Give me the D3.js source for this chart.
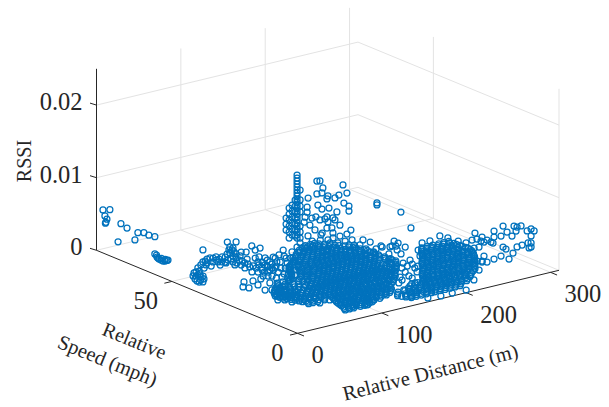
<!DOCTYPE html>
<html>
<head>
<meta charset="utf-8">
<script src="https://cdn.jsdelivr.net/npm/d3@7"></script>
<style>
  html, body { margin: 0; padding: 0; background: #fff; }
  text { font-family: "Liberation Serif", serif; fill: #262626; }
</style>
</head>
<body>
<div id="chart"></div>
<script>
// tick labels
const distanceTicks = [0, 100, 200, 300];
const speedTicks = [0, 50];
const rssiTicks = [0, 0.01, 0.02];
const rssiLabels = ["0", "0.01", "0.02"];

// points that sit on the floor of the box (rssi reads as about 0)
const floorDistance = [37,36,33,31,30.7,30.4,31.9,34.3,35.9,34,35,32,
  80.3,112.8,119.6,105.1,108.9,124.2,126.6,119.3,43.2,53,45.9,61.6,58,71.2,54.2,70.6,109.6,112.3,120.1,
  25.7,21.8,19.7,19.3,24.4,22.2,28.5,29.8,31.2,35.2,39.2,43.9,51.6,58.5,61.8,59.7,48.4,66.9,71.1,73.3,77.4,75.9,81.9,84.1,91,95.1,99.8,102.1,99.9,97.8,91.9,90.6,89.1,89.6,88.2,88.6,84.6,88.8,87.3,95.1,91.8,86.1,99.3,94.2,106.6,101.6,
  66,69.8,72.8,80.9,84.9,74,81,82.2,81.6,106,106.4,31.9,34.5,33.1,27.9,
  99.7,88.2,99.6,89.1,108.7,84.8,119.8,106,96.6,116.2,90.5,130.1,109.1,119.7,100.4,131,110,78.1,98.1,96.5,128.2,140.3,143.3,127.5,156.1,120.5,90.3,
  219.9,220.8,198.7,202.4,199.6,211.7,239.6,232,229.1,237,221.3,212.3,203.2,239,225.6,225.8,219.8,
  206.5,217.1,206.4,200.7,186,191.7,178.8,204,211.4,196.6,187.4,212.2,167.2,158.2,179.2,265.5,
  61.7,65.4,69.2,52.7,56.5,50.8,45.8,76.4,74.8,76.5,63.9,63.9,76.6,61.5,68.7,82.1,93.2,103.8,
  104.8,102.7,110.1,99.3,114,106.1,128,113.9,133.3,113.7,133.3,97.4,84.2,94.4,149.3,161.4,178.3,186.1,188.2,203,206.9,204.2,
  267.4,250.7,228.8,204.7,188.8,175,161.7,151.5,150.1,141.2,117.7,103.3,283.1,285.5,287.6,290,266.6,257,241.3,231.9,286.8,
  165.7,184.3,200.2,199.4,208.2,210,218.2,204.7,174.9,185.6,
  52.7,51,71.7,84.7,59.4,
  55.4,57.3,71.9,65.9,77.1,79.1,77.1,81.6,96.9,75,97.2,81.8,75.9];
const floorSpeed = [69.2,68.2,67,65.5,64.6,63.7,63.4,63.5,63.6,65.6,64.4,66.3,
  64.6,65.8,64.6,57.7,57,59.9,57.4,56.9,36.2,39.1,34.7,38.4,35.2,38.5,31.1,34.7,52.1,50.6,50,
  50.2,48.1,46.6,45.6,46.7,45.1,46.8,48.4,50.1,52.2,52.3,54.4,55.8,57.3,57.5,56.1,53.4,58.5,58.7,58.2,58.4,56.7,57.5,57,58.6,58.8,60.8,60.3,58.8,57.3,56.5,54.9,53.1,52.1,50.6,49.4,47.4,47.5,45.8,47.3,44.9,42.2,45.4,42.6,45.9,43.1,
  55.8,55.1,54.6,54.8,55,53.3,52.9,51.7,49.8,62.5,61.4,51.9,50.4,48.7,49.7,
  49.2,43.7,46.4,41.6,47.5,38.6,49.1,44.1,40.1,45.9,36.5,49,41.5,44.3,37.4,46.9,39.5,39.9,44.7,42,50.4,52.8,50.3,43.8,52.6,42.3,33.7,
  44.9,40.9,46.2,45.4,44.1,39.8,42,38.7,39.3,36.7,33.1,34.9,31.8,40.2,36.1,39,40.1,
  27.3,28.1,22.6,19.8,16.8,21.5,19.2,24.8,25.3,24.5,18.6,23.3,15.8,10.8,13.4,17.6,
  29.6,28.9,28.2,24.6,23.9,25.9,23.2,30.7,32.9,28.7,24.4,22.5,26.8,26.8,31.2,33.4,35.1,35.9,
  52,48.6,49,43.5,46.5,42.2,47.5,41.6,46.5,38.8,44.5,38,36.7,33.8,49.1,51.6,54,53.4,50.2,49.2,44.6,41.3,
  16.3,11.9,6.6,1.6,1.8,1.7,2.4,5.3,10.4,12.1,9.1,7.1,38.4,36,32.6,30.3,36.8,36.7,33,29.1,26,
  54.6,57.7,57.4,52.8,53,48.8,47.2,38.4,17.1,24.7,
  19.9,22.2,15.2,15.6,30.1,
  55,53.6,56.5,52.9,50.8,47.5,44,43.1,52.6,54,55.5,39.2,33.6];

// points that stand clear of the floor
const raisedDistance = [1.7,9.9,4,6.4,5.2,4.6,23,30.2,19.6,43.1,39.6,50.2,56.1,63.2,
  121.6,121.6,121.6,121.6,121.6,121.6,121.6,121.6,121.6,121.6,121.6,121.6,121.6,121.6,121.6,121.6,121.6,121.6,121.6,121.6,121.6,121.6,
  108.6,108.6,108.6,112.2,112.2,112.2,112.2,112.2,112.2,115.7,115.7,115.7,115.7,115.7,115.7,119.3,119.3,119.3,119.3,119.3,119.3,119.3,125.2,125.2,125.2,125.2,125.2,125.2,125.2,134.7,133.5,133.5,131.1,130,
  160.6,164.2,167.7,160.6,166.6,173.7,172.5,182,186.7,196.2,191.5,192.6,198.6,198.6,174.9,184.3,179.6,172.5,170.1,173.7,182,159.4,164.2,154.7,172.5,178.4,179.6,200.9,196.2,165.4,173.7,185.5,152.3,158.3,166.6,187.9,161.8,
  231.8,231.8,260.2,272.1,
  247,249.4,243.5,251.8,255.4,257.7,261.3,266,269.6,269.6,277.9,280.3,285,290.9,293.3,296.9,295.7,
  280.2,287.4,292.1,295.7,292.1,281.4,288.5,292.1,292.1,289.7,
  257.7,255.4,261.3,269.6,277.9,280.3,283.8,287.4,292.1,296.9,268.4,254.2];
const raisedSpeed = [78,78,78,78,78,78,78,78,78,78,78,78,78,78,
  41,41,41,41,41,41,41,41,41,41,41,41,41,41,41,41,41,41,41,41,41,41,
  41,41,41,41,41,41,41,41,41,41,41,41,41,41,41,41,41,41,41,41,41,41,41,41,41,41,41,41,41,41,41,41,41,41,
  46.2,46.2,46.2,46.2,46.2,46.2,46.2,46.2,46.2,46.2,46.2,46.2,46.2,46.2,46.2,46.2,46.2,46.2,46.2,46.2,46.2,46.2,46.2,46.2,46.2,46.2,46.2,46.2,46.2,46.2,46.2,46.2,46.2,46.2,46.2,46.2,46.2,
  46.2,46.2,46.2,46.2,
  12.3,12.3,12.3,12.3,12.3,12.3,12.3,12.3,12.3,12.3,12.3,12.3,12.3,12.3,12.3,12.3,12.3,
  5.1,5.1,5.1,5.1,5.1,5.1,5.1,5.1,5.1,5.1,
  12.3,12.3,12.3,12.3,12.3,12.3,12.3,12.3,12.3,12.3,12.3,12.3];
const raisedRssi = [.0058,.0056,.0049,.0044,.004,.0039,.0033,.0025,.0009,.0015,.0006,.0013,.0008,.0004,
  .01253,.01212,.01171,.01129,.01088,.01047,.01006,.00964,.00923,.00882,.0084,.00799,.00758,.00716,.00675,.00634,.00592,.00551,.0051,.00468,.00427,.00386,
  .00697,.00614,.00532,.00825,.00742,.0066,.00577,.00494,.00412,.00857,.00774,.00691,.00609,.00526,.00443,.00915,.00832,.0075,.00667,.00584,.00501,.00419,.01037,.009,.00817,.00735,.00541,.00459,.00376,.00899,.00778,.00709,.00647,.00581,
  .00988,.00978,.00872,.00809,.00806,.00745,.00707,.00694,.00722,.00723,.00847,.00595,.00537,.00468,.00576,.00495,.00426,.00459,.00438,.00387,.00391,.00496,.00441,.00494,.00307,.00291,.00219,.002,.00158,.00231,.00139,.00065,.00405,.0032,.00585,.00303,.00654,
  .00486,.00459,.00282,.00029,
  .00514,.00424,.00427,.00307,.00435,.0036,.00377,.00336,.00478,.00395,.00386,.00517,.00421,.0035,.00481,.00457,.00405,
  .00621,.00532,.00547,.0051,.0045,.00355,.00364,.00354,.00299,.00292,
  .00167,.00105,.00074,.00092,.0011,.00227,.0019,.00043,.00112,.00182,.00315,.00383];

// the two solid clusters are too dense to pick out single circles,
// so they are read off as rows of nearly equal speed
const mainRowSpeed = [7.2,8.2,9.2,10.3,11.3,12.3,13.3,14.4,15.4,16.4,17.4,18.5,19.5,20.5,21.5,22.6,23.6,24.6,25.6,26.7,27.7,28.7,29.7,30.8,31.8,32.8,33.8,34.9,35.9,36.9,37.9,39,40,41,42.1,43.1,44.1,45.1,46.2,47.2,48.2,49.2,50.3,51.3,52.3];
const mainRowDistance = [
  [78,83,88,96,101,105],
  [80,85,90,94,99,106,110,113],
  [82,87,93,97,103,108,112,118,125],
  [83,89,92,98,101,107,110,115,120,124,130,136],
  [84,90,95,100,105,111,116,121,127,132,138,143],
  [85,88,93,99,104,109,115,120,126,130,136,141,147],
  [86,91,97,102,107,112,118,123,129,134,139,145,151],
  [88,93,96,103,108,114,117,124,127,133,137,144,148,153],
  [89,94,99,105,110,115,121,126,131,136,142,147,155],
  [62,67,73,81,91,96,102,106,112,118,122,128,132,138,143,149,154,160],
  [64,70,77,84,92,97,103,108,113,119,124,129,135,140,146,151,157,165],
  [61,65,71,76,83,89,94,100,105,110,116,120,127,131,137,142,148,153,159,163,169],
  [60,66,72,78,85,90,95,101,106,112,117,122,128,133,139,144,150,155,161,166,172],
  [58,63,69,75,81,87,93,99,104,109,114,121,125,131,135,141,146,153,157,164,167,173,177],
  [57,63,68,74,80,86,92,97,103,108,114,119,125,130,136,141,147,152,158,163,169,174,179],
  [55,60,66,71,78,84,89,95,100,106,111,117,122,128,133,139,144,150,155,161,166,172,177,183],
  [53,59,64,70,76,82,88,94,99,105,110,116,121,127,132,138,143,149,154,160,165,171,176,181,185],
  [52,58,63,69,77,85,91,98,103,108,113,119,124,130,135,141,147,152,157,163,168,174,180,185,190],
  [52,57,62,68,75,83,90,96,101,107,112,118,123,129,134,140,145,151,156,162,167,173,178,184,192],
  [54,59,65,72,80,88,95,102,107,113,118,124,128,135,139,146,150,157,161,168,172,179,183,188,197],
  [55,60,66,74,84,92,99,104,110,115,121,126,132,137,143,148,154,159,165,170,176,181,186,199],
  [58,64,72,82,94,102,108,114,120,125,131,136,142,147,153,158,164,169,175,180,185,197,202],
  [62,68,78,90,100,106,112,117,123,128,134,139,145,150,156,161,167,172,178,183,198,205],
  [66,74,86,98,105,110,116,122,127,133,138,144,149,155,160,166,171,177,182,187,199,204],
  [72,80,96,106,113,119,125,130,136,141,147,152,158,163,169,174,180,186,199,205],
  [88,100,108,116,122,128,134,139,145,150,156,161,167,172,178,183,189,195,201],
  [92,104,112,120,126,132,137,143,148,154,159,165,170,176,181,187,192,198,204],
  [97,108,115,123,130,135,141,146,152,157,163,168,174,179,185,190,196,201],
  [100,110,118,126,133,138,144,149,155,160,166,171,177,182,188,193,199,203],
  [103,113,121,129,136,142,147,153,158,164,169,175,180,186,191,197,202],
  [105,116,124,132,139,145,150,156,161,167,172,178,183,189,194,203],
  [107,118,127,134,141,147,152,158,163,169,174,180,185,191,196,202],
  [109,120,129,136,143,149,155,160,166,171,177,182,188,193,202],
  [113,123,131,139,146,151,157,163,168,174,179,185,190,196,201],
  [116,126,134,142,148,154,160,165,171,176,182,187,193,200],
  [121,130,138,145,152,158,163,169,174,180,185,191,198],
  [126,134,142,149,155,161,166,172,177,183,188,197],
  [130,138,146,152,158,164,170,175,181,186,195],
  [135,142,149,155,161,167,172,178,184,194],
  [139,147,153,159,165,170,176,182,190],
  [142,150,157,163,169,175,181,188],
  [148,155,161,167,173,179,185],
  [152,160,167,174,182],
  [158,165,171,178],
  [165,171,176]];

// the upper right part of this cluster thins out, so its rows are wider spaced
const rightRowSpeed = [5.1,6.2,7.2,8.2,9.2,10.3,11.3,12.3,13.3,14.4,15.4,16.4,17.4,18.5,19.5,20.5,21.5,22.6,23.6,24.6,25.6,26.7,27.7,28.7,29.7,30.8,31.8,32.8,33.8];
const rightRowDistance = [
  [150,156,162,168,174,178,184,190,196,202,208],
  [147,153,159,165,172,177,182,188,194,200,206,212],
  [145,150,156,163,170,176,180,186,192,198,204,210,216,222],
  [143,152,158,165,171,178,183,189,195,201,207,213,219,226],
  [146,160,167,173,180,186,192,197,203,209,215,221,227,232],
  [158,163,170,176,183,188,194,200,206,212,218,224,230,236],
  [165,172,180,186,190,196,202,208,214,220,226,232,240],
  [170,176,184,188,193,199,205,211,217,223,229,235,245],
  [175,182,188,193,199,205,211,217,223,229,235,241,250],
  [192,198,204,210,216,222,228,234,240,246,253],
  [195,201,207,213,219,225,231,237,243,249,256],
  [197,203,209,215,221,227,233,239,245,251,259],
  [200,206,212,218,224,230,236,242,248,254,262],
  [203,209,215,221,227,233,239,245,251,257,265],
  [207,213,219,225,231,237,243,249,255,261,268],
  [210,216,222,228,234,240,246,252,258,264,271],
  [213,219,225,231,237,243,249,255,261,267,273],
  [216,222,228,234,240,246,252,258,264,270,276],
  [218,224,230,236,242,248,254,260,266,272,278],
  [221,227,233,239,245,251,257,263,269,275,280],
  [224,230,236,242,248,254,260,266,272,281],
  [228,234,240,246,252,258,264,270,276,282],
  [231,237,243,249,255,261,267,273,282],
  [234,240,246,252,258,264,270,276,281],
  [236,242,248,254,260,266,272,281],
  [239,245,251,257,263,269,275,280],
  [242,248,254,260,266,273,280],
  [245,251,257,264,271,278],
  [248,254,261,268,274,280]];

// set the dimensions of the graph
const width = 609, height = 407;
const inkColor = "#262626", gridColor = "#e3e3e3", markColor = "#0072BD";

const distanceMax = 310, speedMax = 80, rssiMax = 0.025;
const originX = 297.5, originY = 333.3;

// one scale per screen direction of each axis of the box
const distanceX = d3.scaleLinear().domain([0, distanceMax]).range([0, 261.5]);
const distanceY = d3.scaleLinear().domain([0, distanceMax]).range([0, -63]);
const speedX = d3.scaleLinear().domain([0, speedMax]).range([0, -201]);
const speedY = d3.scaleLinear().domain([0, speedMax]).range([0, -83]);
const rssiY = d3.scaleLinear().domain([0, rssiMax]).range([0, -181.5]);

function project(distance, speed, rssi) {
  return [originX + distanceX(distance) + speedX(speed),
          originY + distanceY(distance) + speedY(speed) + rssiY(rssi)];
}

const svg = d3.select("#chart").append("svg")
  .attr("width", width)
  .attr("height", height)
  .style("display", "block");

function segment(g, a, b, color) {
  const p = project(a[0], a[1], a[2]), q = project(b[0], b[1], b[2]);
  g.append("line")
    .attr("x1", p[0]).attr("y1", p[1])
    .attr("x2", q[0]).attr("y2", q[1])
    .attr("stroke", color)
    .attr("stroke-width", 1);
}

// grid
const grid = svg.append("g");
distanceTicks.filter(d => d > 0).forEach(d => {
  segment(grid, [d, 0, 0], [d, speedMax, 0], gridColor);
  segment(grid, [d, speedMax, 0], [d, speedMax, rssiMax], gridColor);
});
speedTicks.forEach(s => {
  segment(grid, [distanceMax, s, 0], [distanceMax, s, rssiMax], gridColor);
  if (s > 0) segment(grid, [0, s, 0], [distanceMax, s, 0], gridColor);
});
rssiTicks.forEach(r => {
  segment(grid, [0, speedMax, r], [distanceMax, speedMax, r], gridColor);
  segment(grid, [distanceMax, speedMax, r], [distanceMax, 0, r], gridColor);
});

// axes
const axes = svg.append("g");
segment(axes, [0, speedMax, 0], [0, speedMax, rssiMax], inkColor);
segment(axes, [0, speedMax, 0], [0, 0, 0], inkColor);
segment(axes, [0, 0, 0], [distanceMax, 0, 0], inkColor);

// tick marks, each running along one of the other floor directions
function tick(p, dx, dy) {
  axes.append("line")
    .attr("x1", p[0]).attr("y1", p[1])
    .attr("x2", p[0] + dx).attr("y2", p[1] + dy)
    .attr("stroke", inkColor)
    .attr("stroke-width", 1);
}
function label(x, y, text, anchor, size) {
  return svg.append("text")
    .attr("x", x).attr("y", y)
    .attr("text-anchor", anchor)
    .attr("font-size", size)
    .text(text);
}

rssiTicks.forEach((r, i) => {
  const p = project(0, speedMax, r);
  tick(p, -6.5, -2);
  label(p[0] - 14, p[1] + 5, rssiLabels[i], "end", 24.5);
});
speedTicks.forEach(s => {
  const p = project(0, s, 0);
  tick(p, -7.5, 1.8);
  label(p[0] - 14, p[1] + 28, s, "end", 24.5);
});
distanceTicks.forEach(d => {
  const p = project(d, 0, 0);
  tick(p, 6.5, 2.7);
  label(p[0] + 14, p[1] + 30, d, "start", 24.5);
});

// axis titles
label(0, 0, "RSSI", "middle", 20)
  .attr("transform", "translate(31,161) rotate(-90)");
label(0, 0, "Relative", "middle", 20)
  .attr("transform", "translate(132,347) rotate(22)");
label(0, 0, "Speed (mph)", "middle", 20.5)
  .attr("transform", "translate(105,367) rotate(22)");
label(0, 0, "Relative Distance (m)", "middle", 20.5)
  .attr("transform", "translate(432,379) rotate(-14)");

// build the rows back into one list of points
const points = [];
floorDistance.forEach((d, i) => points.push([d, floorSpeed[i], 0]));
raisedDistance.forEach((d, i) => points.push([d, raisedSpeed[i], raisedRssi[i]]));
mainRowSpeed.forEach((s, i) => mainRowDistance[i].forEach(d => points.push([d, s, 0])));
rightRowSpeed.forEach((s, i) => rightRowDistance[i].forEach(d => points.push([d, s, 0])));

// Add the points
svg.append("g")
  .selectAll("circle")
  .data(points)
  .enter()
  .append("circle")
    .attr("cx", d => project(d[0], d[1], d[2])[0])
    .attr("cy", d => project(d[0], d[1], d[2])[1])
    .attr("r", 3)
    .attr("fill", "none")
    .attr("stroke", markColor)
    .attr("stroke-width", 1.25);
</script>
</body>
</html>
